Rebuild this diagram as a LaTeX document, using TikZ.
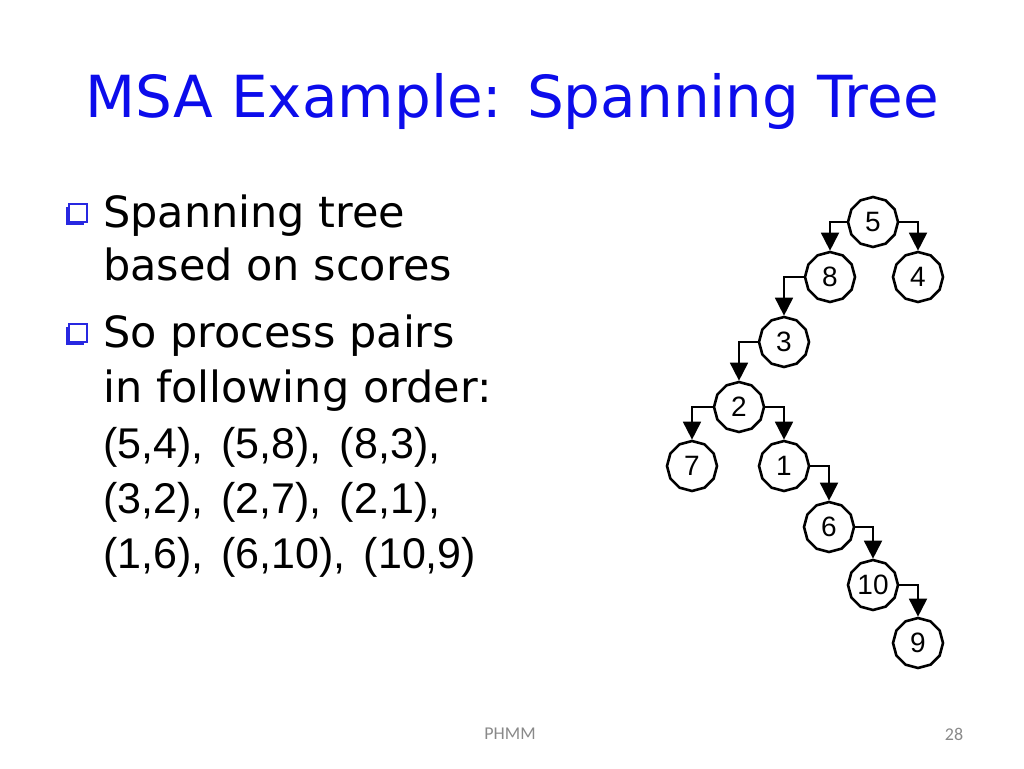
\documentclass[tikz,border=0pt]{standalone}
\usepackage{fontspec}
\setmainfont{Liberation Sans}
\newfontfamily\comicfont{DejaVu Sans}
\newfontfamily\footfont{Carlito}
\usetikzlibrary{arrows.meta,shapes.geometric,shadows}
\definecolor{titleblue}{RGB}{12,12,235}
\definecolor{bulletblue}{RGB}{40,40,225}
\definecolor{footgray}{RGB}{137,137,137}
\newcommand{\widespaces}{\spaceskip=18pt\relax}
\tikzset{
  seqnode/.style={regular polygon, regular polygon sides=12, shape border rotate=15,
    draw=black, line width=2.6pt, fill=white, minimum size=50pt, inner sep=0pt,
    font=\fontsize{28}{28}\selectfont},
  tarr/.style={-{Triangle[length=18pt,width=18pt]}, line width=1.8pt},
  titletext/.style={anchor=base west, inner sep=0pt, text=titleblue,
    font=\comicfont\fontsize{58}{64}\selectfont},
  bodytext/.style={anchor=base west, inner sep=0pt,
    font=\comicfont\fontsize{43}{50}\selectfont},
  pairtext/.style={anchor=base west, inner sep=0pt,
    font=\fontsize{43}{48}\selectfont},
  bulletbox/.style={rectangle, draw=bulletblue, line width=1.3pt, fill=white,
    minimum size=18pt, inner sep=0pt,
    drop shadow={shadow xshift=-3pt, shadow yshift=-3pt, fill=bulletblue, opacity=1}},
  foottext/.style={inner sep=0pt, text=footgray, font=\footfont\fontsize{18}{18}\selectfont},
}
\begin{document}
\begin{tikzpicture}[x=1pt, y=-1pt]
  \useasboundingbox (0,0) rectangle (1024,768);

  % title
  \node[titletext] (title) at (85,117) {MSA Example: Spanning Tree};

  % bullets
  \node[bulletbox] (bul1) at (78,213) {};
  \node[bodytext] (l1) at (103,227) {Spanning tree};
  \node[bodytext] (l2) at (103,280) {based on scores};
  \node[bulletbox] (bul2) at (78,333) {};
  \node[bodytext] (l3) at (103,347) {So process pairs};
  \node[bodytext] (l4) at (103,402) {in following order:};
  \node[pairtext] (p1) at (103,458) {\widespaces (5,4), (5,8), (8,3),};
  \node[pairtext] (p2) at (103,513) {\widespaces (3,2), (2,7), (2,1),};
  \node[pairtext] (p3) at (103,568) {\widespaces (1,6), (6,10), (10,9)};

  % spanning tree
  \node[seqnode] (n5) at (873,222) {5};
  \node[seqnode] (n8) at (830,277) {8};
  \node[seqnode] (n4) at (918,277) {4};
  \node[seqnode] (n3) at (784,342) {3};
  \node[seqnode] (n2) at (739,407) {2};
  \node[seqnode] (n7) at (692,466) {7};
  \node[seqnode] (n1) at (784,466) {1};
  \node[seqnode] (n6) at (829,527) {6};
  \node[seqnode] (n10) at (873,585) {10};
  \node[seqnode] (n9) at (918,643) {9};

  \draw[tarr] (n5.west) -| (n8.north);
  \draw[tarr] (n5.east) -| (n4.north);
  \draw[tarr] (n8.west) -| (n3.north);
  \draw[tarr] (n3.west) -| (n2.north);
  \draw[tarr] (n2.west) -| (n7.north);
  \draw[tarr] (n2.east) -| (n1.north);
  \draw[tarr] (n1.east) -| (n6.north);
  \draw[tarr] (n6.east) -| (n10.north);
  \draw[tarr] (n10.east) -| (n9.north);

  % footer
  \node[foottext] (foot) at (510,734) {PHMM};
  \node[foottext] (page) at (954,734) {28};
\end{tikzpicture}
\end{document}
